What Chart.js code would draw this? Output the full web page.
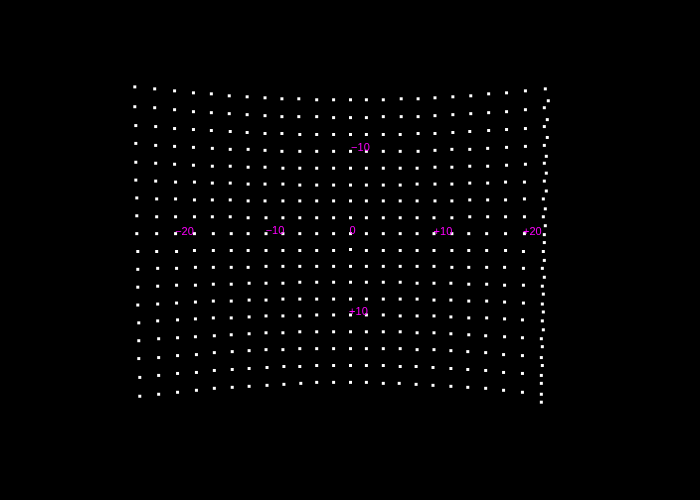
<!DOCTYPE html>
<html>
<head>
<meta charset="utf-8">
<script src="https://cdn.jsdelivr.net/npm/chart.js@4/dist/chart.umd.min.js"></script>
<style>
  html, body { margin: 0; padding: 0; background: #000; }
  #wrap { width: 700px; height: 500px; }
  canvas { display: block; background: #000; }
</style>
</head>
<body>
<div id="wrap"><canvas id="c" width="700" height="500"></canvas></div>
<script>
// Grid point positions, one array per row (24 columns each)
const rowsX = [
  [133,153,173,192,210,228,246,264,281,298,316,333,350,366,383,401,418,435,453,471,489,507,526,546],
  [133,153,173,192,210,228,246,264,281,298,316,333,350,366,383,401,418,435,453,471,489,507,526,545],
  [134,154,173,192,210,229,246,264,281,299,316,333,350,366,383,400,418,435,453,470,489,507,526,545],
  [134,154,173,192,211,229,247,264,281,299,316,333,350,366,383,400,418,435,452,470,488,507,526,545],
  [134,154,173,192,211,229,247,264,282,299,316,333,350,366,383,400,417,435,452,470,488,507,526,545],
  [134,154,174,193,211,229,247,264,282,299,316,333,350,366,383,400,417,435,452,470,488,506,525,545],
  [135,155,174,193,211,229,247,264,282,299,316,333,350,366,383,400,417,435,452,470,488,506,525,544],
  [135,155,174,193,211,229,247,265,282,299,316,333,350,366,383,400,417,434,452,470,488,506,525,544],
  [135,155,174,193,212,230,247,265,282,299,316,333,350,366,383,400,417,434,452,469,487,506,525,545],
  [136,155,175,193,212,230,247,265,282,299,316,333,350,366,383,400,417,434,452,469,487,506,524,544],
  [136,156,175,194,212,230,247,265,282,299,316,333,350,366,383,400,417,434,452,469,487,505,524,543],
  [136,156,175,194,212,230,248,265,282,299,316,333,350,366,383,400,417,434,451,469,487,505,524,543],
  [136,156,175,194,212,230,248,265,282,299,316,333,350,366,383,400,417,434,451,469,487,505,524,543],
  [137,156,176,194,212,230,248,265,282,299,316,333,350,366,383,400,417,434,451,469,487,505,523,543],
  [137,157,176,194,213,230,248,265,282,299,316,333,350,366,383,400,417,434,451,469,486,505,523,542],
  [137,157,176,195,213,231,248,265,282,299,316,333,350,366,383,400,417,434,451,468,486,504,523,542],
  [138,157,176,195,213,231,248,266,283,299,316,333,350,366,383,400,416,433,451,468,486,504,523,542],
  [138,157,176,195,213,231,248,266,283,300,316,333,350,366,383,399,416,433,451,468,486,504,523,542]
];
const rowsY = [
  [85,87,89,91,92,94,95,96,97,97,98,98,98,98,98,97,97,96,95,94,92,91,89,87],
  [105,106,108,110,111,112,113,114,115,115,115,116,116,116,115,115,115,114,113,112,111,110,108,106],
  [124,125,127,128,129,130,131,132,132,133,133,133,133,133,133,133,132,132,131,130,129,128,127,125],
  [142,144,145,146,147,148,148,149,150,150,150,150,150,150,150,150,150,149,148,148,147,146,145,144],
  [161,162,163,164,165,165,166,166,167,167,167,167,167,167,167,167,167,166,166,165,165,164,163,162],
  [179,180,181,181,182,182,183,183,183,184,184,184,184,184,184,184,183,183,183,182,182,181,181,180],
  [197,198,198,199,199,199,200,200,200,200,200,200,200,200,200,200,200,200,200,199,199,199,198,198],
  [215,216,216,216,216,216,217,217,217,217,217,217,217,217,217,217,217,217,217,216,216,216,216,216],
  [233,233,233,233,233,233,233,233,233,233,233,233,233,233,233,233,233,233,233,233,233,233,233,234],
  [251,251,251,250,250,250,250,250,250,250,250,250,249,250,250,250,250,250,250,250,250,250,251,251],
  [269,268,268,267,267,267,267,266,266,266,266,266,266,266,266,266,266,266,267,267,267,267,268,268],
  [287,286,285,285,284,284,283,283,283,282,282,282,282,282,282,282,283,283,283,284,284,285,285,286],
  [305,304,303,302,301,301,300,300,299,299,299,299,299,299,299,299,299,300,300,301,301,302,303,304],
  [323,321,320,319,318,318,317,316,316,316,315,315,315,315,315,316,316,316,317,318,318,319,320,321],
  [341,339,338,337,336,335,334,333,333,332,332,332,332,332,332,332,333,333,334,335,336,337,338,339],
  [359,358,356,355,353,352,351,350,350,349,349,349,349,349,349,349,350,350,351,352,353,355,356,358],
  [378,376,374,373,371,370,369,368,367,367,366,366,366,366,366,367,367,368,369,370,371,373,374,376],
  [397,395,393,391,389,388,387,386,385,384,383,383,383,383,384,384,385,386,387,388,389,391,393,395]
];
// Extra points along the right edge (between rows)
const edgeX = [549,548,548,547,547,547,546,546,545,545,545,544,544,544,543,543,542,542];
const edgeY = [99,118,136,155,172,190,208,225,242,260,277,294,312,330,347,366,384,403];

// Magenta annotation labels
const labelText = ['\u221220','\u221210','0','+10','+20','\u221210','+10'];
const labelX = [183,274,352,443,533,360,358];
const labelY = [231,230,230,231,231,147,312];

const points = [];
rowsX.forEach((row, r) => row.forEach((x, c) => points.push({ x: x, y: rowsY[r][c] })));
edgeX.forEach((x, i) => points.push({ x: x, y: edgeY[i] }));

const labelPlugin = {
  id: 'labels',
  afterDatasetsDraw(chart) {
    const ctx = chart.ctx;
    const xs = chart.scales.x, ys = chart.scales.y;
    ctx.save();
    ctx.fillStyle = '#ff00ff';
    ctx.font = '11px "Liberation Sans", Arial, sans-serif';
    ctx.textAlign = 'center';
    ctx.textBaseline = 'middle';
    labelText.forEach((t, i) => {
      ctx.fillText(t, xs.getPixelForValue(labelX[i]), ys.getPixelForValue(labelY[i]));
    });
    ctx.restore();
  }
};

new Chart(document.getElementById('c'), {
  type: 'scatter',
  data: {
    datasets: [{
      data: points,
      pointStyle: 'rect',
      pointRadius: 2.122,
      pointHoverRadius: 2.122,
      pointBorderWidth: 0,
      pointBackgroundColor: '#ffffff',
      pointBorderColor: '#ffffff'
    }]
  },
  options: {
    responsive: false,
    devicePixelRatio: 1,
    animation: false,
    events: [],
    layout: { padding: 0 },
    plugins: { legend: { display: false }, tooltip: { enabled: false } },
    scales: {
      x: { type: 'linear', min: -0.5, max: 699.5, display: false },
      y: { type: 'linear', min: -0.5, max: 499.5, reverse: true, display: false }
    }
  },
  plugins: [labelPlugin]
});
</script>
</body>
</html>
